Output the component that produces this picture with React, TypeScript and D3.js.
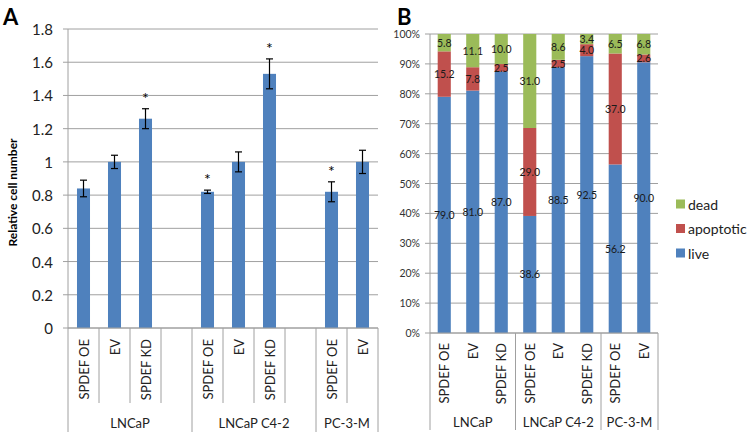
import React from "react";
import * as d3 from "d3";

// ---------- Panel A data ----------
const categoriesA = ["SPDEF OE", "EV", "SPDEF KD", "", "SPDEF OE", "EV", "SPDEF KD", "", "SPDEF OE", "EV"];
const groupOfA = ["LNCaP", "LNCaP", "LNCaP", "LNCaP", "LNCaP C4-2", "LNCaP C4-2", "LNCaP C4-2", "LNCaP C4-2", "PC-3-M", "PC-3-M"];
const meansA: (number | null)[] = [0.84, 1.0, 1.26, null, 0.82, 1.0, 1.53, null, 0.82, 1.0];
const errorsA: (number | null)[] = [0.05, 0.04, 0.06, null, 0.01, 0.06, 0.09, null, 0.06, 0.07];
const signifA = [false, false, true, false, true, false, true, false, true, false];
const ticksA = [0, 0.2, 0.4, 0.6, 0.8, 1, 1.2, 1.4, 1.6, 1.8];

// ---------- Panel B data ----------
const categoriesB = ["SPDEF OE", "EV", "SPDEF KD", "SPDEF OE", "EV", "SPDEF KD", "SPDEF OE", "EV"];
const groupOfB = ["LNCaP", "LNCaP", "LNCaP", "LNCaP C4-2", "LNCaP C4-2", "LNCaP C4-2", "PC-3-M", "PC-3-M"];
const liveB = [79.0, 81.0, 87.0, 38.6, 88.5, 92.5, 56.2, 90.0];
const apoptoticB = [15.2, 7.8, 2.5, 29.0, 2.5, 4.0, 37.0, 2.6];
const deadB = [5.8, 11.1, 10.0, 31.0, 8.6, 3.4, 6.5, 6.8];
const seriesB = ["live", "apoptotic", "dead"];
const ticksB = [0, 0.1, 0.2, 0.3, 0.4, 0.5, 0.6, 0.7, 0.8, 0.9, 1.0];

const BLUE = "#4F81BD";
const RED = "#C0504D";
const GREEN = "#9BBB59";
const GRID = "#a0a0a0";
const FONT = "Lato, 'Open Sans', sans-serif";

function groupSpans(groups: string[]) {
  const spans: { name: string; start: number; end: number }[] = [];
  groups.forEach((g, i) => {
    const last = spans[spans.length - 1];
    if (last && last.name === g) last.end = i;
    else spans.push({ name: g, start: i, end: i });
  });
  return spans;
}

function PanelA() {
  const left = 68, right = 378, top = 29, bottom = 328;
  const x = d3.scaleBand<number>().domain(categoriesA.map((_, i) => i)).range([left, right]).padding(0);
  const y = d3.scaleLinear().domain([0, 1.8]).range([bottom, top]);
  const bw = x.bandwidth() * 0.42;
  const spans = groupSpans(groupOfA);
  return (
    <g fontFamily={FONT}>
      <text x={3} y={25} fontSize={22} fontWeight="bold" fill="#000">A</text>
      {ticksA.map((t) => (
        <g key={t}>
          <line x1={left - 5} x2={right} y1={y(t)} y2={y(t)} stroke={GRID} strokeWidth={1} />
          <text x={53} y={y(t)} fontSize={15} textAnchor="end" dominantBaseline="central" fill="#222">
            {d3.format("")(t)}
          </text>
        </g>
      ))}
      <line x1={left} x2={left} y1={top} y2={432} stroke={GRID} />
      <text
        transform={`translate(12,${(top + bottom) / 2 + 14}) rotate(-90)`}
        fontSize={12}
        fontWeight="bold"
        textAnchor="middle"
        dominantBaseline="central"
        fill="#000"
      >
        Relative cell number
      </text>
      {meansA.map((m, i) =>
        m == null ? null : (
          <g key={i}>
            <rect x={(x(i) as number) + (x.bandwidth() - bw) / 2} y={y(m)} width={bw} height={y(0) - y(m)} fill={BLUE} />
          </g>
        )
      )}
      {meansA.map((m, i) => {
        if (m == null) return null;
        const e = errorsA[i] as number;
        const cx = (x(i) as number) + x.bandwidth() / 2;
        return (
          <g key={"e" + i} stroke="#000" strokeWidth={1.2}>
            <line x1={cx} x2={cx} y1={y(m + e)} y2={y(m - e)} />
            <line x1={cx - 3.5} x2={cx + 3.5} y1={y(m + e)} y2={y(m + e)} />
            <line x1={cx - 3.5} x2={cx + 3.5} y1={y(m - e)} y2={y(m - e)} />
            {signifA[i] && (
              <text x={cx} y={y(m + e) - 5} stroke="none" fill="#000" fontSize={16} textAnchor="middle">
                *
              </text>
            )}
          </g>
        );
      })}
      {/* x axis */}
      {categoriesA.map((c, i) => {
        const cx = (x(i) as number) + x.bandwidth() / 2;
        return (
          <text
            key={"xl" + i}
            transform={`translate(${cx},${bottom + 11}) rotate(-90)`}
            fontSize={13}
            textAnchor="end"
            dominantBaseline="central"
            fill="#222"
          >
            {c}
          </text>
        );
      })}
      {categoriesA.map((_, i) =>
        i === 0 ? null : (
          <line key={"sep" + i} x1={x(i)} x2={x(i)} y1={bottom} y2={spans.some((s) => s.start === i) ? 432 : 403} stroke={GRID} />
        )
      )}
      <line x1={right} x2={right} y1={bottom} y2={432} stroke={GRID} />
      {spans.map((s) => (
        <text
          key={s.name}
          x={((x(s.start) as number) + (x(s.end) as number) + x.bandwidth()) / 2}
          y={423}
          fontSize={13}
          textAnchor="middle"
          dominantBaseline="central"
          fill="#222"
        >
          {s.name}
        </text>
      ))}
      <line x1={left} x2={right} y1={bottom} y2={bottom} stroke={GRID} />
    </g>
  );
}

function PanelB() {
  const left = 430, right = 658, top = 34, bottom = 333;
  const x = d3.scaleBand<number>().domain(categoriesB.map((_, i) => i)).range([left, right]).padding(0);
  const y = d3.scaleLinear().domain([0, 1]).range([bottom, top]);
  const bw = x.bandwidth() * 0.46;
  const table = categoriesB.map((c, i) => ({ live: liveB[i], apoptotic: apoptoticB[i], dead: deadB[i] }));
  const stacked = d3.stack<any>().keys(seriesB).offset(d3.stackOffsetExpand)(table);
  const colors: Record<string, string> = { live: BLUE, apoptotic: RED, dead: GREEN };
  const raw: Record<string, number[]> = { live: liveB, apoptotic: apoptoticB, dead: deadB };
  const spans = groupSpans(groupOfB);
  const legend = ["dead", "apoptotic", "live"];
  return (
    <g fontFamily={FONT}>
      <text x={397} y={25} fontSize={22} fontWeight="bold" fill="#000">B</text>
      {ticksB.map((t) => (
        <g key={t}>
          <line x1={left - 5} x2={right} y1={y(t)} y2={y(t)} stroke={GRID} strokeWidth={1} />
          <text x={420} y={y(t)} fontSize={10.5} textAnchor="end" dominantBaseline="central" fill="#333">
            {d3.format(".0%")(t)}
          </text>
        </g>
      ))}
      <line x1={left} x2={left} y1={top} y2={430} stroke={GRID} />
      {stacked.map((layer) => (
        <g key={layer.key} fill={colors[layer.key]}>
          {layer.map((d, i) => (
            <rect
              key={i}
              x={(x(i) as number) + (x.bandwidth() - bw) / 2}
              y={y(d[1])}
              width={bw}
              height={y(d[0]) - y(d[1])}
            />
          ))}
        </g>
      ))}
      {stacked.map((layer) => (
        <g key={"l" + layer.key}>
          {layer.map((d, i) => (
            <text
              key={i}
              x={(x(i) as number) + x.bandwidth() / 2}
              y={y((d[0] + d[1]) / 2)}
              fontSize={10.5}
              textAnchor="middle"
              dominantBaseline="central"
              fill="#1a1a1a"
            >
              {d3.format(".1f")(raw[layer.key][i])}
            </text>
          ))}
        </g>
      ))}
      <line x1={left} x2={right} y1={bottom} y2={bottom} stroke={GRID} />
      {categoriesB.map((c, i) => (
        <text
          key={"xl" + i}
          transform={`translate(${(x(i) as number) + x.bandwidth() / 2},${bottom + 10}) rotate(-90)`}
          fontSize={13}
          textAnchor="end"
          dominantBaseline="central"
          fill="#222"
        >
          {c}
        </text>
      ))}
      {spans.map((s) => (
        <g key={s.name}>
          <line x1={(x(s.end) as number) + x.bandwidth()} x2={(x(s.end) as number) + x.bandwidth()} y1={bottom} y2={430} stroke={GRID} />
          <text
            x={((x(s.start) as number) + (x(s.end) as number) + x.bandwidth()) / 2}
            y={422}
            fontSize={13}
            textAnchor="middle"
            dominantBaseline="central"
            fill="#222"
          >
            {s.name}
          </text>
        </g>
      ))}
      {legend.map((k, i) => (
        <g key={k}>
          <rect x={676} y={204 + i * 24.5 - 4.5} width={9} height={9} fill={colors[k]} />
          <text x={688} y={204 + i * 24.5} fontSize={14} dominantBaseline="central" fill="#222">
            {k}
          </text>
        </g>
      ))}
    </g>
  );
}

export default function App() {
  return (
    <svg width={750} height={436} style={{ position: "absolute", left: 0, top: 0, background: "#fff" }}>
      <rect width={750} height={436} fill="#fff" />
      <PanelA />
      <PanelB />
    </svg>
  );
}
